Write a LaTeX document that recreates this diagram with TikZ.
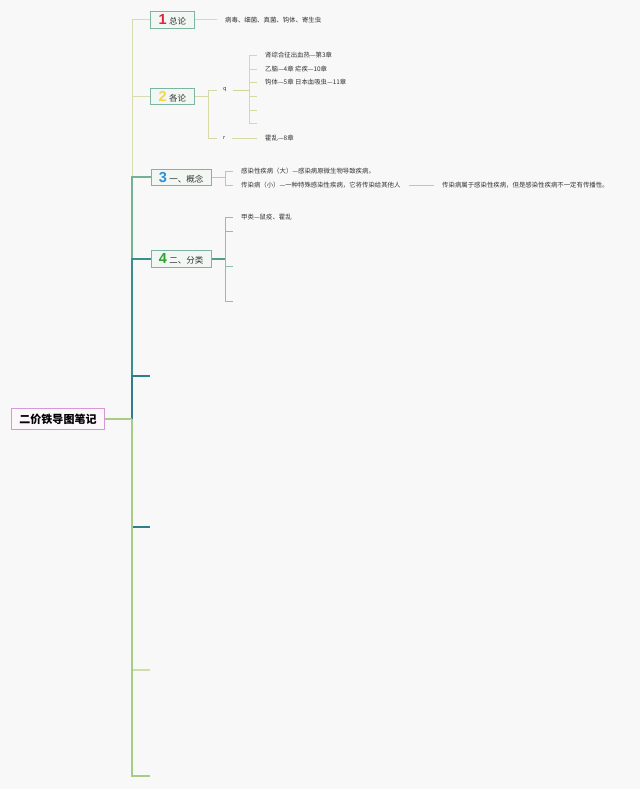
\documentclass[tikz,border=0pt]{standalone}
\usepackage{fontspec}
\setmainfont{Noto Sans CJK SC}
\newfontfamily\numfont{Liberation Sans}
\definecolor{bg}{HTML}{F8F8F8}
\definecolor{cpale}{HTML}{D8DAB0}
\definecolor{cthree}{HTML}{74B294}
\definecolor{cfour}{HTML}{3A8E8E}
\definecolor{cfive}{HTML}{2E7E8C}
\definecolor{clight}{HTML}{A8CC84}
\definecolor{cseven}{HTML}{CCDFA8}
\definecolor{tborder}{HTML}{7DB5A3}
\definecolor{tfill}{HTML}{F2F7F3}
\definecolor{rborder}{HTML}{D59AD5}
\definecolor{rfill}{HTML}{FBF7FB}
\definecolor{stwo}{HTML}{D6D9A6}
\definecolor{stwoq}{HTML}{D2D494}
\definecolor{sthree}{HTML}{A9CDBE}
\definecolor{sfour}{HTML}{8CBFAF}
\definecolor{sfourmain}{HTML}{4E9E8A}
\definecolor{numred}{HTML}{E8203A}
\definecolor{numyellow}{HTML}{F5D547}
\definecolor{numblue}{HTML}{2A8FD8}
\definecolor{numgreen}{HTML}{2EA02E}
\definecolor{txt}{HTML}{333333}
\newcommand\bignum[2]{{\color{#1}\numfont\bfseries\fontsize{14.5}{14.5}\selectfont #2}}
\begin{document}
\begin{tikzpicture}[x=1pt,y=-1pt,
  topic/.style={draw=tborder, fill=tfill, line width=0.8pt, minimum height=16.6pt,
    inner sep=0pt, anchor=west, text=txt, font=\fontsize{8.5}{10}\selectfont},
  rootbox/.style={draw=rborder, fill=rfill, line width=0.7pt, minimum width=92.6pt,
    minimum height=21pt, inner sep=0pt, text=black, font=\fontsize{11}{12}\selectfont\bfseries},
  leaf/.style={anchor=west, inner xsep=8pt, inner ysep=1pt, text=txt, font=\fontsize{6.4}{7.5}\selectfont},
  tiny/.style={anchor=west, inner xsep=6pt, inner ysep=1pt, text=txt, font=\fontsize{5.5}{6}\selectfont},
  lpale/.style={draw=cpale, line width=1pt},
  lthree/.style={draw=cthree, line width=2pt},
  lfour/.style={draw=cfour, line width=2.5pt},
  lfive/.style={draw=cfive, line width=2.5pt},
  lsix/.style={draw=cfive, line width=2pt},
  lseven/.style={draw=cseven, line width=1.2pt},
  leight/.style={draw=clight, line width=2.6pt},
  stwol/.style={draw=stwo, line width=0.9pt},
  stwoql/.style={draw=stwoq, line width=0.9pt},
  sthreel/.style={draw=sthree, line width=0.9pt},
  sfourl/.style={draw=sfour, line width=0.9pt},
  sfourm/.style={draw=sfourmain, line width=1.1pt}
]
\fill[bg] (0,0) rectangle (640,789);
\useasboundingbox (0,0) rectangle (640,789);

% nodes
\node[rootbox] (root) at (58,419) {二价铁导图笔记};
\node[topic, minimum width=44pt] (n1) at (150,20) {\bignum{numred}{1}\hspace{2.5pt}总论};
\node[topic, minimum width=44pt] (n2) at (150,96.5) {\bignum{numyellow}{2}\hspace{2.5pt}各论};
\node[topic, minimum width=60pt] (n3) at (150.7,177.3) {\bignum{numblue}{3}\hspace{2.5pt}一、概念};
\node[topic, minimum width=60pt] (n4) at (150.7,259) {\bignum{numgreen}{4}\hspace{2.5pt}二、分类};

\coordinate (t) at (132,419);
\coordinate (e5) at (150,376);
\coordinate (e6) at (150,527);
\coordinate (e7) at (150,670);
\coordinate (e8) at (150,776);

% main branches
\draw[lpale] (t) |- (n1.west);
\draw[lpale] (t) |- (n2.west);
\draw[lthree] (t) |- (n3.west);
\draw[lfour] (t) |- (n4.west);
\draw[lfive] (t) |- (e5);
\draw[lsix] (t) |- (e6);
\draw[lseven] (t) |- (e7);
\draw[leight] (t) |- (e8);
\draw[leight] (root.east) -- (t);

% subtree 1
\node[leaf] (a1) at (217,20) {病毒、细菌、真菌、钩体、寄生虫};
\draw[lpale] (n1.east) -- (a1.west);

% subtree 2
\node[tiny] (q) at (217,90) {q};
\node[tiny] (r) at (217,138) {r};
\coordinate (j2) at (208,96.5);
\draw[stwol] (n2.east) -- (j2) |- (q.west);
\draw[stwol] (j2) |- (r.west);
\coordinate (jq) at (249,90);
\node[leaf] (b1) at (257,55) {肾综合征出血热—第3章};
\node[leaf] (b2) at (257,69) {乙脑—4章 疟疾—10章};
\node[leaf] (b3) at (257,82.5) {钩体—5章 日本血吸虫—11章};
\coordinate (b4) at (257,96);
\coordinate (b5) at (257,110);
\coordinate (b6) at (257,123.5);
\draw[stwoql] (q.east) -- (jq);
\foreach \k in {b1,b2,b3} \draw[stwol] (jq) |- (\k.west);
\foreach \k in {b4,b5,b6} \draw[stwol] (jq) |- (\k);
\node[leaf] (r1) at (257,138) {霍乱—8章};
\draw[stwol] (r.east) -- (r1.west);

% subtree 3
\coordinate (j3) at (225,177.3);
\node[leaf] (c1) at (233,171) {感染性疾病（大）—感染病原微生物导致疾病。};
\node[leaf] (c2) at (233,185) {传染病（小）—一种特殊感染性疾病，它将传染给其他人};
\node[leaf] (c3) at (434,185) {传染病属于感染性疾病，但是感染性疾病不一定有传播性。};
\draw[sthreel] (n3.east) -- (j3) |- (c1.west);
\draw[sthreel] (j3) |- (c2.west);
\draw[sthreel] (c2.east) -- (c3.west);

% subtree 4
\coordinate (j4) at (225,259);
\node[leaf] (d1) at (233,217.3) {甲类—鼠疫、霍乱};
\coordinate (d2) at (233,231.7);
\coordinate (d3) at (233,266.7);
\coordinate (d4) at (233,301);
\draw[sfourm] (n4.east) -- (j4);
\draw[sfourl] (j4) |- (d1.west);
\foreach \k in {d2,d3,d4} \draw[sfourl] (j4) |- (\k);
\end{tikzpicture}
\end{document}
